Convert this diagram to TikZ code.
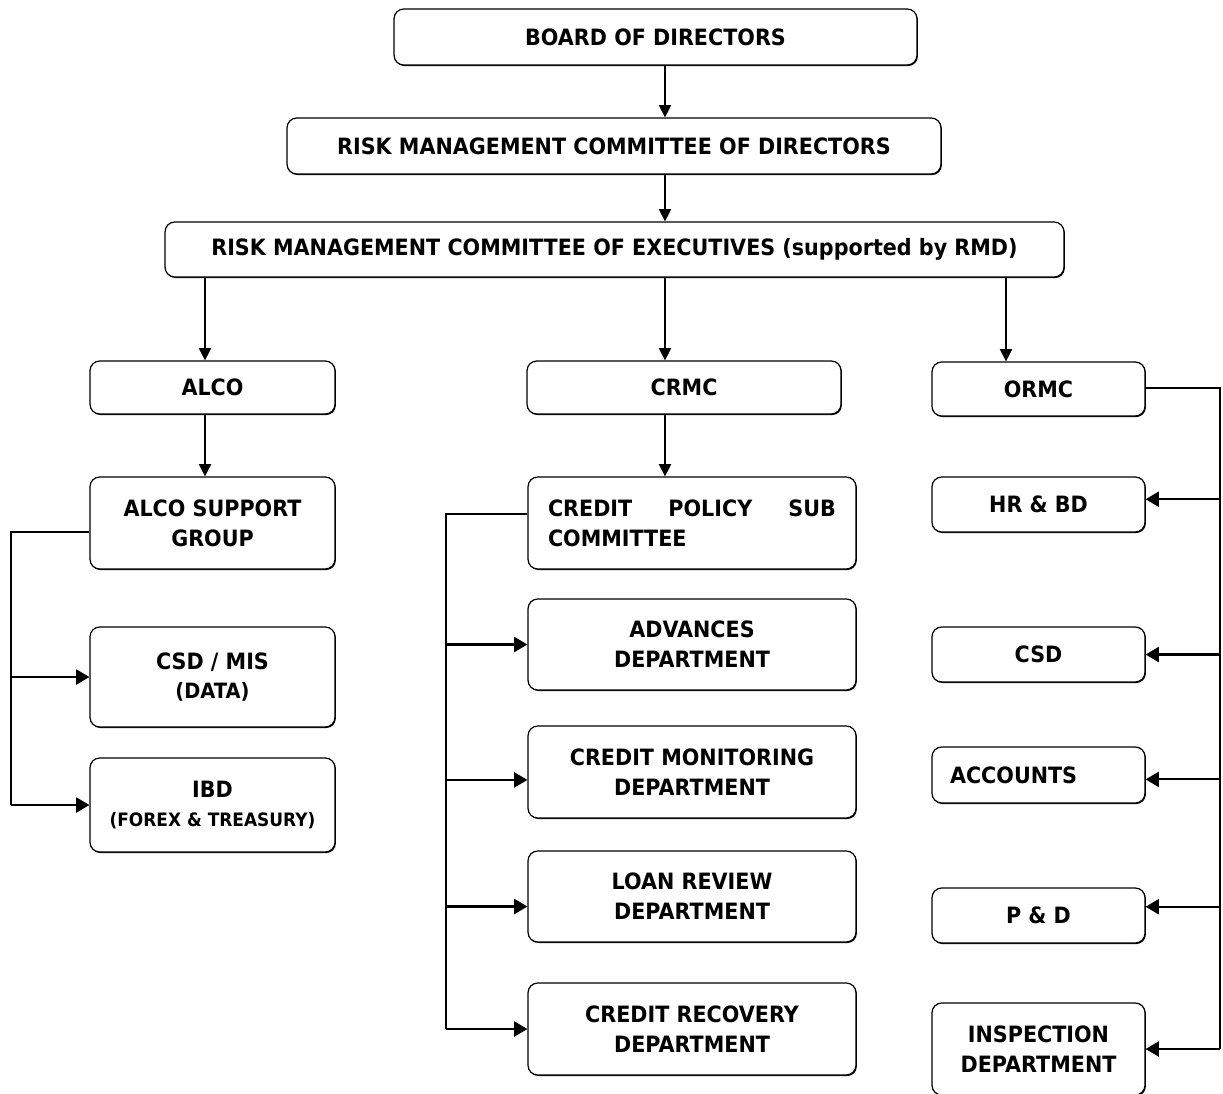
\documentclass[tikz,border=0pt]{standalone}
\usepackage{fontspec}
\setmainfont{DejaVu Sans}[FakeStretch=0.92]
\usetikzlibrary{arrows.meta,shadows}
\def\orgnode(#1,#2,#3,#4,#5,#6){
  \node[orgbox, minimum width=#4, minimum height=#5] (#1) at (#2,#3) {#6};
}
\def\sm#1{{\fontsize{10.5}{14}\selectfont #1}}

\begin{document}
\begin{tikzpicture}[x=0.02cm, y=-0.02cm,
  orgbox/.style={draw, line width=0.7pt, rounded corners=5.5pt, fill=white, align=center,
    font=\bfseries\fontsize{12.8}{17}\selectfont, inner sep=2pt,
    drop shadow={shadow xshift=0.5pt, shadow yshift=-0.6pt, fill=black, opacity=1}},
  down/.style={line width=0.6pt, -{Triangle[length=7pt, width=7pt]}},
  bus/.style={line width=1.2pt},
  feed/.style={line width=1.2pt, -{Triangle[length=7.5pt, width=8.5pt]}}]
\useasboundingbox (0,0) rectangle (1223,1093);

% top of the chain
\orgnode(board,655.5,37,10.46cm,1.12cm,BOARD OF DIRECTORS)
\orgnode(rmcd,614,146,13.08cm,1.12cm,RISK MANAGEMENT COMMITTEE OF DIRECTORS)
\orgnode(rmce,614.5,249.5,17.98cm,1.1cm,{RISK MANAGEMENT COMMITTEE OF EXECUTIVES (supported by RMD)})

% three committees
\orgnode(alco,212.5,387.5,4.9cm,1.06cm,ALCO)
\orgnode(crmc,684,387.5,6.28cm,1.06cm,CRMC)
\orgnode(ormc,1038.5,389,4.26cm,1.08cm,ORMC)

% ALCO side
\orgnode(asg,212.5,523,4.9cm,1.84cm,ALCO SUPPORT\\GROUP)
\orgnode(csdmis,212.5,677,4.9cm,2.0cm,CSD / MIS\\{\fontsize{12}{14}\selectfont (DATA)})
\orgnode(ibd,212.5,805,4.9cm,1.88cm,IBD\\\sm{(FOREX \& TREASURY)})

% CRMC side
\node[orgbox, minimum height=1.84cm, text width=5.76cm, inner xsep=0.4cm, align=left] (cpsc) at (692,523)
  {\hbox to 5.76cm{CREDIT\hfill POLICY\hfill SUB}\\COMMITTEE};
\orgnode(adv,692,644.5,6.56cm,1.82cm,ADVANCES\\DEPARTMENT)
\orgnode(cmd,692,772,6.56cm,1.84cm,CREDIT MONITORING\\DEPARTMENT)
\orgnode(lrd,692,896.5,6.56cm,1.82cm,LOAN REVIEW\\DEPARTMENT)
\orgnode(crd,692,1029,6.56cm,1.84cm,CREDIT RECOVERY\\DEPARTMENT)

% ORMC side
\orgnode(hrbd,1038.5,504.5,4.26cm,1.1cm,HR \& BD)
\orgnode(csd,1038.5,654.5,4.26cm,1.1cm,CSD)
\node[orgbox, minimum height=1.12cm, text width=3.54cm, inner xsep=0.36cm, align=left] (acc) at (1038.5,775) {ACCOUNTS};
\orgnode(pd,1038.5,915.5,4.26cm,1.1cm,P \& D)
\orgnode(insp,1038.5,1049,4.26cm,1.84cm,INSPECTION\\DEPARTMENT)

% vertical arrows
\draw[down] (board.south -| 665,0) -- (rmcd.north -| 665,0);
\draw[down] (rmcd.south -| 665,0) -- (rmce.north -| 665,0);
\draw[down] (rmce.south -| 205,0) -- (alco.north -| 205,0);
\draw[down] (rmce.south -| 665,0) -- (crmc.north -| 665,0);
\draw[down] (rmce.south -| 1006,0) -- (ormc.north -| 1006,0);
\draw[down] (alco.south -| 205,0) -- (asg.north -| 205,0);
\draw[down] (crmc.south -| 665,0) -- (cpsc.north -| 665,0);

% ALCO bracket
\coordinate (lbus) at (11,532);
\coordinate (lend) at (lbus |- ibd.west);
\draw[bus] (asg.west |- lbus) -- (lbus) -- (lend);
\draw[feed] (lbus |- csdmis.west) -- (csdmis.west);
\draw[feed] (lend) -- (ibd.west);

% CRMC bracket
\coordinate (mbus) at (446,514);
\coordinate (mend) at (mbus |- crd.west);
\draw[bus] (cpsc.west |- mbus) -- (mbus) -- (mend);
\draw[feed] (mbus |- adv.west) -- (adv.west);
\draw[feed] ([yshift=-4.5pt]mbus |- cmd.west) -- ([yshift=-4.5pt]cmd.west);
\draw[feed] ([yshift=-5.7pt]mbus |- lrd.west) -- ([yshift=-5.7pt]lrd.west);
\draw[feed] (mend) -- (crd.west);

% ORMC bracket
\coordinate (rbus) at (1220,388);
\coordinate (rend) at (rbus |- insp.east);
\draw[bus] (ormc.east |- rbus) -- (rbus) -- (rend);
\draw[feed] ([yshift=3pt]rbus |- hrbd.east) -- ([yshift=3pt]hrbd.east);
\draw[feed] (rbus |- csd.east) -- (csd.east);
\draw[feed] ([yshift=-2.5pt]rbus |- acc.east) -- ([yshift=-2.5pt]acc.east);
\draw[feed] ([yshift=5pt]rbus |- pd.east) -- ([yshift=5pt]pd.east);
\draw[feed] (rend) -- (insp.east);
\end{tikzpicture}
\end{document}
